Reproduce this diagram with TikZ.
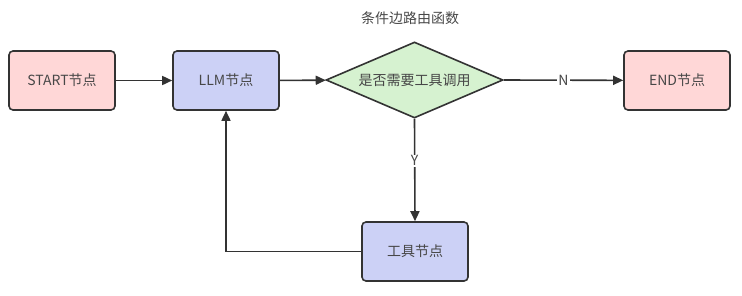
\documentclass[tikz,border=0pt]{standalone}
\usepackage{fontspec}
\setmainfont{Noto Sans CJK SC}
\usetikzlibrary{arrows.meta,shapes.geometric}
\definecolor{linec}{HTML}{333333}
\definecolor{pinkf}{HTML}{FFD7D7}
\definecolor{bluef}{HTML}{CCD1F6}
\definecolor{greenf}{HTML}{D6F2D0}
\tikzset{
  box/.style={draw=linec, line width=1.6pt, rounded corners=4pt, minimum width=106pt, minimum height=59pt, inner sep=0pt, font=\fontsize{14}{16}\selectfont, text=linec!90},
  dia/.style={diamond, draw=linec, line width=1.6pt, fill=greenf, minimum width=177pt, minimum height=76pt, aspect=2.33, inner sep=0pt, font=\fontsize{14}{16}\selectfont, text=linec!90},
  conn/.style={draw=linec, line width=1.6pt, -{Triangle[length=10pt,width=9pt]}},
  lbl/.style={fill=white, inner sep=1pt, font=\fontsize{14}{16}\selectfont, text=linec!90}
}
\begin{document}
\begin{tikzpicture}[x=1pt,y=-1pt]
\useasboundingbox (0,0) rectangle (742,295);
\node[font=\fontsize{14}{16}\selectfont, text=linec!90] (title) at (410,18) {条件边路由函数};
\node[box, fill=pinkf] (start) at (62,80.5) {START节点};
\node[box, fill=bluef] (llm) at (226,80.5) {LLM节点};
\node[dia] (cond) at (414.5,80) {是否需要工具调用};
\node[box, fill=pinkf] (end) at (677,80.5) {END节点};
\node[box, fill=bluef] (tool) at (415,251.5) {工具节点};
\draw[conn] (start) -- (llm);
\draw[conn] (llm) -- (cond);
\draw[conn] (cond.east) -- node[lbl] {N} (end);
\draw[conn] (cond.south) -- node[lbl, pos=0.41] {Y} (tool.north);
\draw[conn] (tool.west) -| (llm.south);
\end{tikzpicture}
\end{document}
